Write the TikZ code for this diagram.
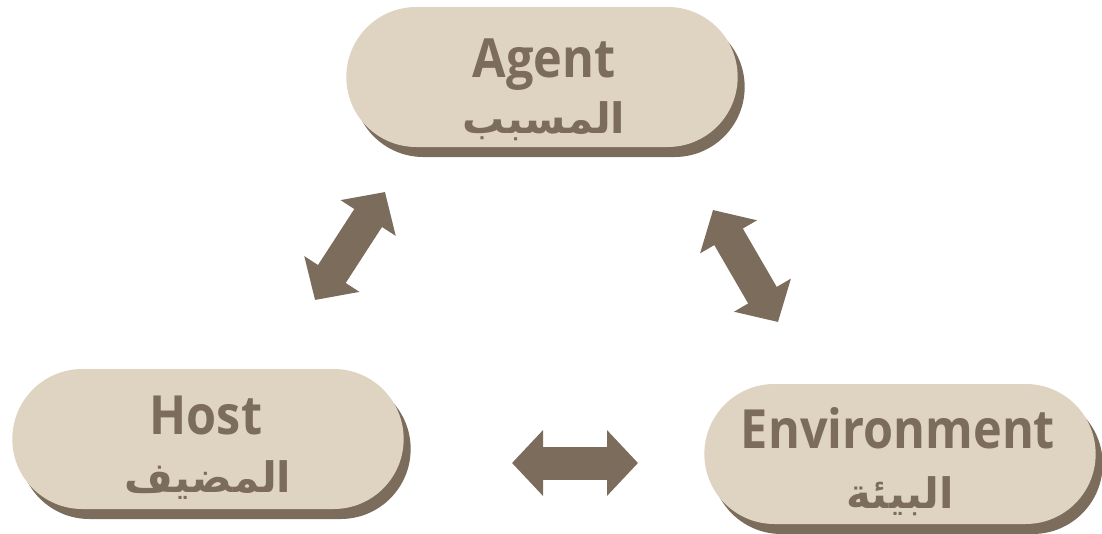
\documentclass[tikz,border=0pt]{standalone}
\usepackage{fontspec}
\usetikzlibrary{shapes.misc, arrows.meta, shadows}
\TeXXeTstate=1
\newfontfamily\enfont[FakeStretch=0.9]{Open Sans}
\newfontfamily\arfont[Script=Arabic]{DejaVu Sans}
\definecolor{pillfill}{HTML}{DFD3C1}
\definecolor{earth}{HTML}{7B6C5C}

\tikzset{
  pill/.style={rounded rectangle, fill=pillfill, minimum width=398pt, minimum height=140pt,
    drop shadow={shadow xshift=7pt, shadow yshift=-10pt, fill=earth, opacity=1, fill opacity=1}},
  entext/.style={anchor=base, text=earth, font=\enfont\bfseries\fontsize{54}{60}\selectfont},
  artext/.style={anchor=base, text=earth, font=\arfont\bfseries\fontsize{42}{48}\selectfont},
  twoway/.style={draw=earth, line width=33pt,
    {Triangle[length=31pt,width=64pt]}-{Triangle[length=31pt,width=64pt]}},
}

\begin{document}
\begin{tikzpicture}[x=1pt, y=-1pt]
    \useasboundingbox (0,0) rectangle (1102,533);
    % pills
    \node[pill] (agent) at (542,77) {};
    \node[pill] (host) at (208,439) {};
    \node[pill] (env) at (900,454) {};
    % labels
    \node[entext] (agentEn) at (544,77) {Agent};
    \node[artext] (agentAr) at (544,133) {\beginR المسبب\endR};
    \node[entext] (hostEn) at (206,434) {Host};
    \node[artext] (hostAr) at (208,492) {\beginR المضيف\endR};
    \node[entext] (envEn) at (898,448) {Environment};
    \node[artext] (envAr) at (900,508) {\beginR البيئة\endR};
    % arrow ends
    \coordinate (ahA) at (385,192);
    \coordinate (ahH) at (315,300);
    \coordinate (aeA) at (713,210);
    \coordinate (aeE) at (778,322);
    \coordinate (heH) at (512,463);
    \coordinate (heE) at (638,463);
    \draw[twoway] (ahA) -- (ahH);
    \draw[twoway] (aeA) -- (aeE);
    \draw[twoway] (heH) -- (heE);
\end{tikzpicture}
\end{document}
